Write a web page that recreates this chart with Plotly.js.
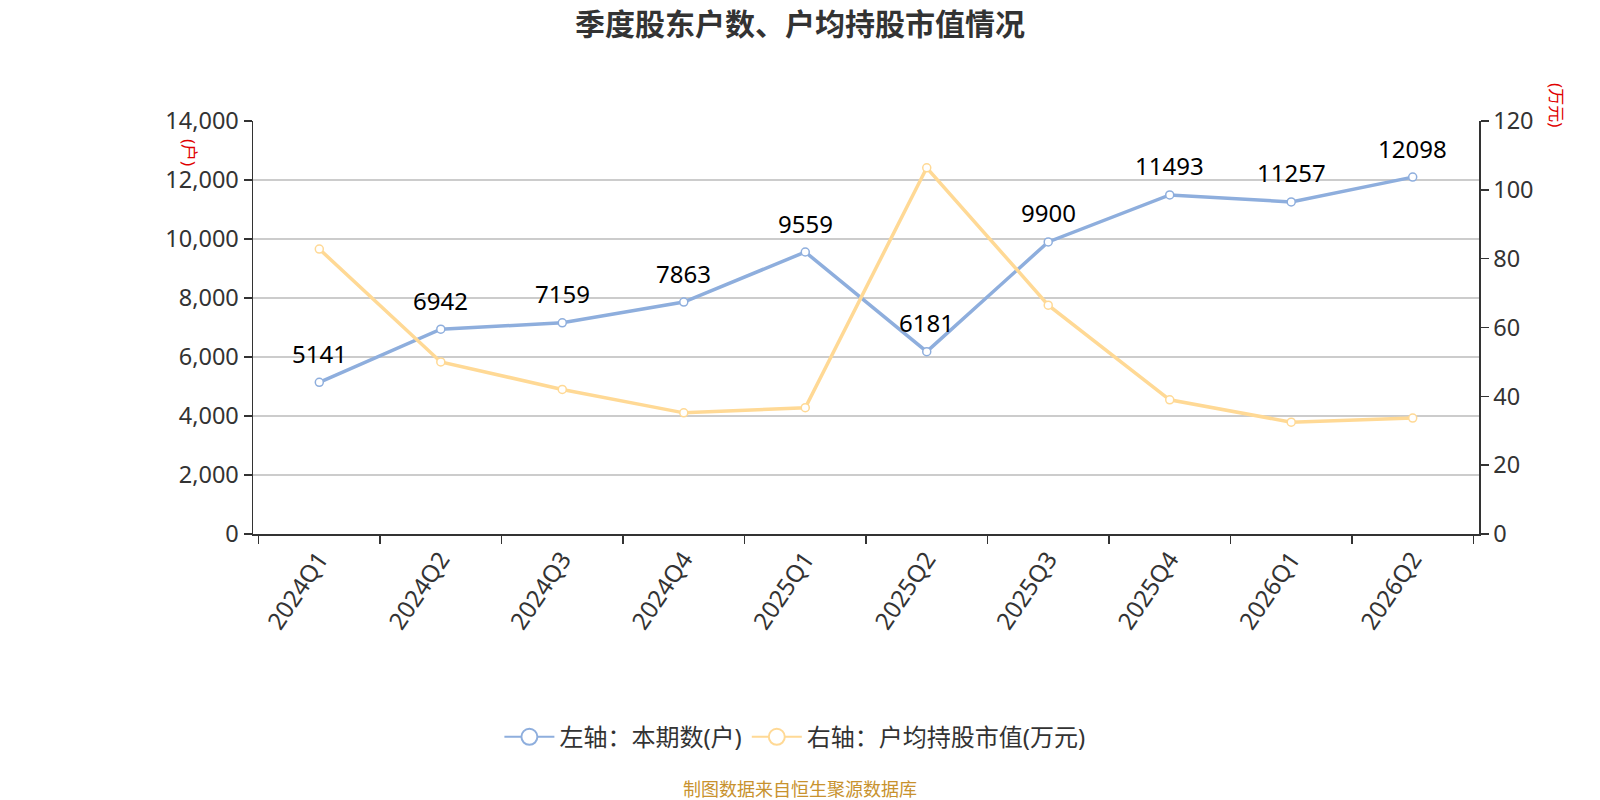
<!DOCTYPE html>
<html>
<head>
<meta charset="utf-8">
<script src="https://cdn.plot.ly/plotly-3.0.1.min.js"></script>
<style>
  html, body { margin: 0; padding: 0; background: #fff; }
  #chart { width: 1600px; height: 800px; }
</style>
</head>
<body>
<div id="chart"></div>
<script>
const quarters = ['2024Q1', '2024Q2', '2024Q3', '2024Q4', '2025Q1', '2025Q2', '2025Q3', '2025Q4', '2026Q1', '2026Q2'];
const holders = [5141, 6942, 7159, 7863, 9559, 6181, 9900, 11493, 11257, 12098];
const avgValue = [82.8, 50.0, 42.0, 35.2, 36.7, 106.4, 66.5, 39.0, 32.5, 33.7];

const FONT = '"Noto Sans", "Noto Sans CJK SC", sans-serif';
const blue = '#8eaedd';
const yellow = '#ffd995';

const valueTrace = {
    x: quarters,
    y: avgValue,
    yaxis: 'y2',
    type: 'scatter',
    mode: 'lines+markers',
    showlegend: false,
    line: { color: yellow, width: 3.5 },
    marker: { size: 8, color: '#fff', line: { color: yellow, width: 1.5 } },
    hoverinfo: 'skip'
};

const holderTrace = {
    x: quarters,
    y: holders,
    type: 'scatter',
    mode: 'lines+markers',
    showlegend: false,
    line: { color: blue, width: 3.5 },
    marker: { size: 8, color: '#fff', line: { color: blue, width: 1.5 } },
    hoverinfo: 'skip'
};

// legend-only entries so the legend symbols can be larger than the point markers
const legendBlue = {
    x: [null], y: [null],
    type: 'scatter', mode: 'lines+markers',
    name: '左轴：本期数(户)',
    line: { color: blue, width: 2 },
    marker: { size: 21, color: '#fff', line: { color: blue, width: 2 } }
};
const legendYellow = {
    x: [null], y: [null],
    type: 'scatter', mode: 'lines+markers',
    name: '右轴：户均持股市值(万元)',
    line: { color: yellow, width: 2 },
    marker: { size: 21, color: '#fff', line: { color: yellow, width: 2 } }
};

const labels = quarters.map((q, i) => ({
    x: q,
    y: holders[i],
    xref: 'x', yref: 'y',
    text: String(holders[i]),
    showarrow: false,
    yshift: 29,
    xanchor: 'center', yanchor: 'middle',
    font: { size: 24, color: '#000', family: FONT }
}));

const layout = {
    width: 1600,
    height: 800,
    margin: { l: 253, r: 121, t: 121, b: 266 },
    paper_bgcolor: '#fff',
    plot_bgcolor: '#fff',
    font: { family: FONT, color: '#333' },
    showlegend: true,
    hovermode: false,
    title: {
        text: '<b>季度股东户数、户均持股市值情况</b>',
        font: { size: 30, color: '#333', family: '"Noto Sans CJK SC", sans-serif' },
        x: 0.5,
        xanchor: 'center',
        y: 0.969,
        yanchor: 'middle'
    },
    xaxis: {
        type: 'category',
        tickson: 'boundaries',
        ticks: 'outside',
        ticklen: 8,
        tickwidth: 1.5,
        tickcolor: '#333',
        tickangle: -56,
        tickfont: { size: 24, color: '#333' },
        showline: true,
        linecolor: '#333',
        linewidth: 1.5,
        showgrid: false,
        zeroline: false,
        fixedrange: true
    },
    yaxis: {
        range: [0, 14000],
        dtick: 2000,
        tickformat: ',d',
        ticks: 'outside',
        ticklen: 8,
        tickwidth: 1.5,
        tickcolor: '#333',
        tickfont: { size: 23.5, color: '#333' },
        showline: true,
        linecolor: '#333',
        linewidth: 1.5,
        showgrid: true,
        gridcolor: '#cccccc',
        gridwidth: 1.3,
        zeroline: false,
        fixedrange: true
    },
    yaxis2: {
        range: [0, 120],
        dtick: 20,
        overlaying: 'y',
        side: 'right',
        ticks: 'outside',
        ticklen: 8,
        tickwidth: 1.5,
        tickcolor: '#333',
        tickfont: { size: 23.5, color: '#333' },
        showline: true,
        linecolor: '#333',
        linewidth: 1.5,
        showgrid: false,
        zeroline: false,
        fixedrange: true
    },
    legend: {
        orientation: 'h',
        x: 0.442,
        xanchor: 'center',
        y: -0.492,
        yanchor: 'middle',
        font: { size: 24, color: '#333', family: FONT },
        itemwidth: 50
    },
    annotations: labels.concat([
        {
            text: '(户)',
            xref: 'paper', yref: 'paper',
            x: -0.0514, y: 0.9225,
            xanchor: 'center', yanchor: 'middle',
            textangle: 90,
            showarrow: false,
            font: { size: 17, color: '#e00000' }
        },
        {
            text: '(万元)',
            xref: 'paper', yref: 'paper',
            x: 1.0636, y: 1.0387,
            xanchor: 'center', yanchor: 'middle',
            textangle: 90,
            showarrow: false,
            font: { size: 17, color: '#e00000' }
        },
        {
            text: '制图数据来自恒生聚源数据库',
            xref: 'paper', yref: 'paper',
            x: 0.446, y: -0.615,
            xanchor: 'center', yanchor: 'middle',
            showarrow: false,
            font: { size: 18, color: '#c8922e', family: '"Noto Sans CJK SC", sans-serif' }
        }
    ])
};

Plotly.newPlot('chart', [valueTrace, holderTrace, legendBlue, legendYellow], layout, { displayModeBar: false, staticPlot: true });
</script>
</body>
</html>
